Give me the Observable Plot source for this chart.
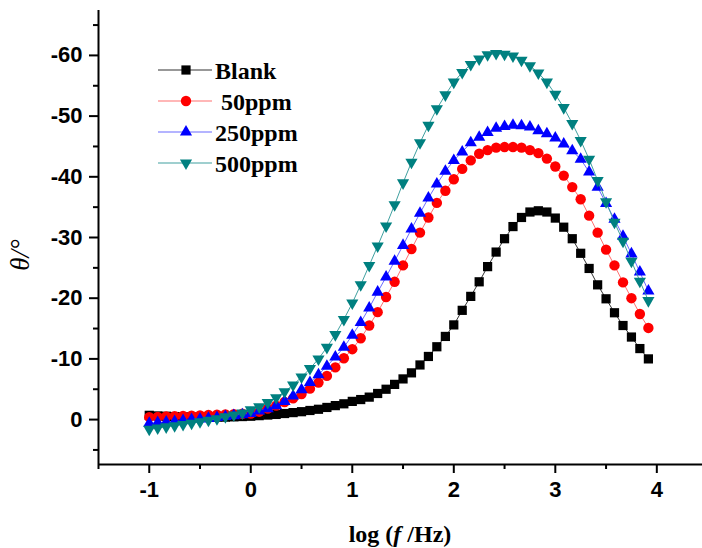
<!DOCTYPE html>
<html>
<head>
<meta charset="utf-8">
<script src="https://cdn.jsdelivr.net/npm/d3@7"></script>
<script src="https://cdn.jsdelivr.net/npm/@observablehq/plot@0.6"></script>
<style>
  html, body { margin: 0; padding: 0; background: white; }
</style>
</head>
<body>
<div id="chart"></div>
<script>
// log(f/Hz) sample positions
const logF = [-1.000,-0.917,-0.833,-0.750,-0.667,-0.583,-0.500,-0.417,-0.333,-0.250,-0.167,-0.083,
  0.000,0.083,0.167,0.250,0.333,0.417,0.500,0.583,0.667,0.750,0.833,0.917,
  1.000,1.083,1.167,1.250,1.333,1.417,1.500,1.583,1.667,1.750,1.833,1.917,
  2.000,2.083,2.167,2.250,2.333,2.417,2.500,2.583,2.667,2.750,2.833,2.917,
  3.000,3.083,3.167,3.250,3.333,3.417,3.500,3.583,3.667,3.750,3.833,3.917];

const blank = [-0.7,-0.6,-0.55,-0.5,-0.45,-0.4,-0.4,-0.4,-0.4,-0.4,-0.45,-0.5,
  -0.55,-0.65,-0.75,-0.85,-1.0,-1.15,-1.3,-1.5,-1.7,-2.0,-2.3,-2.6,
  -3.0,-3.3,-3.7,-4.3,-5.0,-5.8,-6.7,-7.7,-9.0,-10.4,-12.0,-13.7,
  -15.6,-18.0,-20.3,-22.7,-25.2,-27.6,-29.8,-31.8,-33.3,-34.2,-34.4,-34.2,
  -33.2,-31.7,-29.8,-27.4,-24.9,-22.2,-19.9,-17.6,-15.5,-13.6,-11.7,-10.0];

const ppm50 = [-0.4,-0.45,-0.5,-0.55,-0.6,-0.65,-0.7,-0.75,-0.8,-0.85,-0.9,-0.95,
  -1.0,-1.3,-1.8,-2.3,-2.9,-3.5,-4.2,-5.1,-6.1,-7.2,-8.6,-10.1,
  -11.6,-13.4,-15.5,-17.7,-20.2,-22.7,-25.4,-28.1,-30.8,-33.3,-35.7,-37.7,
  -39.6,-41.3,-42.7,-43.8,-44.4,-44.8,-44.9,-44.9,-44.8,-44.4,-43.9,-43.0,
  -41.7,-40.2,-38.3,-36.3,-33.6,-30.8,-28.0,-25.4,-22.6,-20.0,-17.4,-15.1];

const ppm250 = [0.6,0.5,0.4,0.3,0.15,0.0,-0.1,-0.2,-0.35,-0.5,-0.65,-0.8,
  -1.0,-1.4,-1.8,-2.3,-3.0,-3.9,-4.9,-6.1,-7.4,-8.8,-10.3,-11.9,
  -13.9,-16.0,-18.4,-21.0,-23.5,-26.1,-28.7,-31.4,-34.0,-36.5,-38.8,-40.9,
  -42.7,-44.1,-45.6,-46.5,-47.3,-48.0,-48.3,-48.5,-48.4,-48.2,-47.6,-47.1,
  -46.4,-45.4,-44.3,-42.9,-40.8,-38.3,-35.6,-33.0,-30.2,-27.3,-24.3,-21.2];

const ppm500 = [1.6,1.4,1.2,1.0,0.8,0.6,0.35,0.1,-0.15,-0.45,-0.75,-1.1,
  -1.6,-2.1,-2.8,-3.6,-4.6,-5.7,-7.0,-8.4,-10.0,-11.9,-14.0,-16.5,
  -19.2,-22.2,-25.4,-28.6,-31.9,-35.4,-39.0,-42.4,-45.6,-48.5,-51.2,-53.5,
  -55.6,-57.2,-58.5,-59.4,-60.1,-60.3,-60.2,-59.9,-59.2,-58.3,-57.1,-55.6,
  -53.6,-51.4,-48.8,-46.0,-42.9,-39.4,-35.9,-32.5,-29.4,-26.1,-22.8,-19.6];

const seriesNames = ["Blank", " 50ppm", "250ppm", "500ppm"];
const seriesValues = [blank, ppm50, ppm250, ppm500];
const seriesColors = ["#000000", "#ff0000", "#0000ff", "#008080"];
const lineColors = ["#333333", "#ff7070", "#6a6aff", "#40a0a0"];

const xTicks = [-1, 0, 1, 2, 3, 4];
const xMinor = [-1.5, -0.5, 0.5, 1.5, 2.5, 3.5];
const yTicks = [0, -10, -20, -30, -40, -50, -60];
const yMinor = [5, -5, -15, -25, -35, -45, -55, -65];

// custom symbols
const triUp = {draw(ctx, size) {
  const R = Math.sqrt(size / Math.PI) * 1.35, h = R / 2, w = R * Math.sqrt(3) / 2;
  ctx.moveTo(0, -R); ctx.lineTo(w, h); ctx.lineTo(-w, h); ctx.closePath();
}};
const triDown = {draw(ctx, size) {
  const R = Math.sqrt(size / Math.PI) * 1.35, h = R / 2, w = R * Math.sqrt(3) / 2;
  ctx.moveTo(0, R); ctx.lineTo(w, -h); ctx.lineTo(-w, -h); ctx.closePath();
}};
const symbols = [d3.symbolSquare, d3.symbolCircle, triUp, triDown];

const X0 = -1.5, X1 = 4.45, Y0 = 7.4, Y1 = -67.4;

const marks = [
  Plot.ruleX([X0], {stroke: "black", strokeWidth: 2}),
  Plot.ruleY([Y0], {stroke: "black", strokeWidth: 2}),
  Plot.axisX({ticks: xTicks, tickSize: 9, tickPadding: 8, strokeWidth: 2, tickFormat: d => String(d), label: null, fontSize: 22}),
  Plot.axisX({ticks: xMinor, tickSize: 5, strokeWidth: 2, tickFormat: () => "", label: null}),
  Plot.axisY({ticks: yTicks, tickSize: 9, tickPadding: 7, strokeWidth: 2, tickFormat: d => String(d), label: null, fontSize: 22}),
  Plot.axisY({ticks: yMinor, tickSize: 5, strokeWidth: 2, tickFormat: () => "", label: null})
];

seriesValues.forEach((vals, i) => {
  const rows = logF.map((x, k) => ({x, y: vals[k]}));
  marks.push(Plot.line(rows, {x: "x", y: "y", stroke: lineColors[i], strokeWidth: 1}));
  marks.push(Plot.dot(rows, {x: "x", y: "y", symbol: symbols[i], r: 5.2, fill: seriesColors[i], stroke: "none"}));
});

const plot = Plot.plot({
  width: 702,
  height: 548,
  marginLeft: 98,
  marginRight: 0,
  marginTop: 10,
  marginBottom: 84,
  x: {domain: [X0, X1], label: null},
  y: {domain: [Y0, Y1], label: null},
  style: {fontFamily: "'Liberation Sans', Arial, sans-serif", fontSize: "22px", fontWeight: "bold", background: "white", color: "black", overflow: "visible"},
  marks
});

const svg = d3.select(plot);
// legend
const legY = [70, 101, 132, 163];
const legBase = [79, 110, 141, 172];
const lg = svg.append("g").attr("text-anchor", "start");
seriesNames.forEach((name, i) => {
  lg.append("line").attr("x1", 158).attr("x2", 212).attr("y1", legY[i]).attr("y2", legY[i])
    .attr("stroke", lineColors[i]).attr("stroke-width", 1.2);
  lg.append("path").attr("d", d3.symbol(symbols[i], Math.PI * 27)())
    .attr("transform", `translate(186,${legY[i]})`).attr("fill", seriesColors[i]);
  lg.append("text").attr("x", 215).attr("y", legBase[i]).attr("text-anchor", "start")
    .style("white-space", "pre")
    .attr("font-family", "'Liberation Serif', 'Times New Roman', serif")
    .attr("font-size", 24).attr("font-weight", "bold").attr("fill", "black")
    .text(name);
});
// x label
const xl = svg.append("text").attr("x", 400).attr("y", 542).attr("text-anchor", "middle")
  .attr("font-family", "'Liberation Serif', 'Times New Roman', serif")
  .attr("font-size", 24).attr("font-weight", "bold").attr("fill", "black");
xl.append("tspan").text("log (");
xl.append("tspan").attr("font-style", "italic").text("f");
xl.append("tspan").text(" /Hz)");
// y label
const yl = svg.append("text").attr("transform", "translate(29,255) rotate(-90)").attr("text-anchor", "middle")
  .attr("font-family", "'Liberation Serif', 'Times New Roman', serif")
  .attr("font-size", 27).attr("font-weight", "normal").attr("fill", "black");
yl.append("tspan").attr("font-style", "italic").text("θ");
yl.append("tspan").attr("font-style", "italic").text("/°");

document.getElementById("chart").appendChild(plot);
</script>
</body>
</html>
